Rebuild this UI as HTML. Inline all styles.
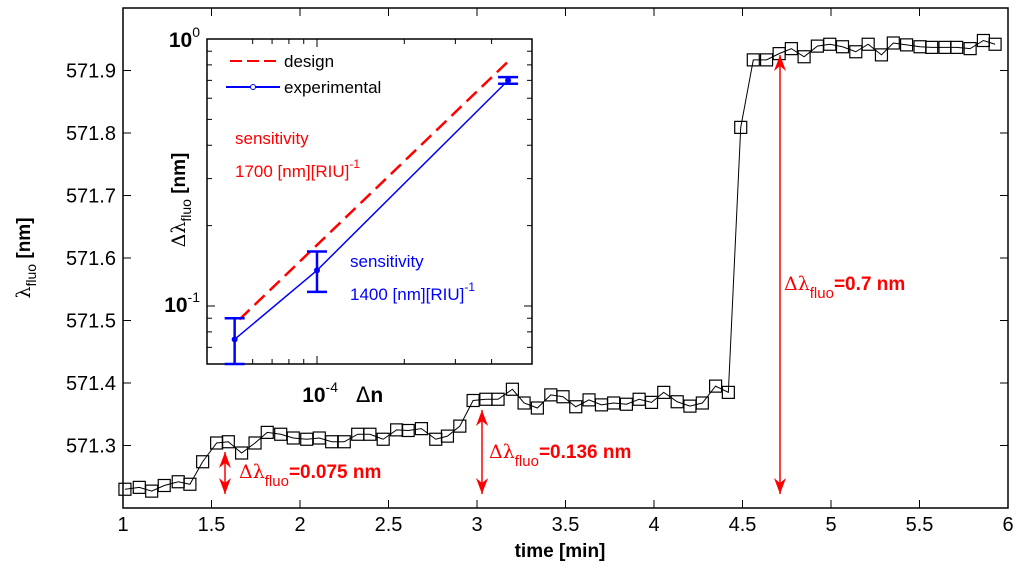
<!DOCTYPE html>
<html><head><meta charset="utf-8"><style>
body{margin:0;background:#fff;}
svg{display:block;font-family:"Liberation Sans",sans-serif;}
</style></head><body>
<svg id="c" width="1024" height="573" viewBox="0 0 1024 573">
<rect width="1024" height="573" fill="#fff"/>
<g id="main"></g>
<g id="inset"></g>
</svg>
<script>
const times=[1.011,1.092,1.162,1.233,1.312,1.378,1.450,1.529,1.595,1.670,1.746,1.815,1.891,1.962,2.038,2.109,2.179,2.250,2.326,2.395,2.470,2.546,2.611,2.686,2.767,2.833,2.903,2.978,3.050,3.119,3.200,3.266,3.341,3.417,3.486,
3.558,3.633,3.703,3.772,3.844,3.916,3.986,4.055,4.131,4.203,4.273,4.348,4.420,4.490,4.561,4.636,4.707,4.776,4.848,4.923,4.993,5.065,5.140,5.210,5.285,5.352,5.427,5.503,5.569,5.644,5.710,5.786,5.861,5.927];
const lambdas=[571.230,571.233,571.227,571.236,571.242,571.238,571.274,571.304,571.306,571.288,571.304,571.321,571.318,571.312,571.310,571.312,571.306,571.306,571.318,571.318,571.310,571.325,571.324,571.327,571.310,571.315,571.331,571.372,571.374,571.374,571.390,571.368,571.360,571.381,571.378,
571.362,571.373,571.365,571.368,571.366,571.374,571.369,571.385,571.370,571.363,571.368,571.395,571.385,571.809,571.917,571.917,571.927,571.935,571.922,571.939,571.942,571.938,571.930,571.942,571.925,571.944,571.941,571.938,571.937,571.937,571.937,571.935,571.948,571.942];
const xTicks=[1,1.5,2,2.5,3,3.5,4,4.5,5,5.5,6];
const xTickLabels=["1","1.5","2","2.5","3","3.5","4","4.5","5","5.5","6"];
const yTicks=[571.3,571.4,571.5,571.6,571.7,571.8,571.9];
const yTickLabels=["571.3","571.4","571.5","571.6","571.7","571.8","571.9"];
// inset data
const dn=[0.52e-4,1.0e-4,4.56e-4];
const dlExp=[0.075,0.136,0.7];
const dlErrLo=[0.06,0.113,0.68];
const dlErrHi=[0.09,0.16,0.72];
const designDn=[0.54e-4,4.7e-4];
const designDl=[0.089,0.85];

const NS="http://www.w3.org/2000/svg";
function mk(parent,tag,attrs,text){const e=document.createElementNS(NS,tag);for(const k in attrs)e.setAttribute(k,attrs[k]);if(text!==undefined)e.textContent=text;parent.appendChild(e);return e;}
const X0=123,X1=1008,Y0=508,Y1=8;
const sx=t=>X0+(t-1)/5*(X1-X0);
const sy=v=>Y0-(v-571.2)/0.8*(Y0-Y1);
const M=document.getElementById('main');
const box=mk(M,'rect',{x:X0,y:Y1,width:X1-X0,height:Y0-Y1,fill:'none',stroke:'#000','stroke-width':1.5});


xTicks.forEach((t,i)=>{const x=sx(t);
 mk(M,'line',{x1:x,x2:x,y1:Y0,y2:Y0-8,stroke:'#000'});mk(M,'line',{x1:x,x2:x,y1:Y1,y2:Y1+8,stroke:'#000'});
 const l=mk(M,'text',{x:x,y:531,'text-anchor':'middle','font-size':20},xTickLabels[i]);
 
 });
yTicks.forEach((v,i)=>{const y=sy(v);
 mk(M,'line',{x1:X0,x2:X0+8,y1:y,y2:y,stroke:'#000'});mk(M,'line',{x1:X1,x2:X1-8,y1:y,y2:y,stroke:'#000'});
 const l=mk(M,'text',{x:116,y:y+7,'text-anchor':'end','font-size':20},yTickLabels[i]);
 
 });
const xt=mk(M,'text',{x:560,y:557,'text-anchor':'middle','font-size':19,'font-weight':'bold'},'time [min]');


const yt=mk(M,'text',{transform:'translate(30,258) rotate(-90)','text-anchor':'middle','font-size':19,'font-weight':'bold'});


mk(yt,'tspan',{'font-weight':'normal','font-family':'DejaVu Serif, serif'},'λ');
mk(yt,'tspan',{dy:6,'font-size':14,'font-weight':'normal'},'fluo');
mk(yt,'tspan',{dy:-6},' [nm]');
const pts=times.map((t,i)=>sx(t)+','+sy(lambdas[i])).join(' ');
const ln=mk(M,'polyline',{points:pts,fill:'none',stroke:'#000','stroke-width':1});


times.forEach((t,i)=>{const r=mk(M,'rect',{x:sx(t)-6,y:sy(lambdas[i])-6,width:12,height:12,fill:'none',stroke:'#000','stroke-width':1.2});
 
 });
// annotations
function arrow(x,ya,yb,name){const g=mk(M,'g',{});
 
 
 mk(g,'line',{x1:x,x2:x,y1:ya,y2:yb,stroke:'#f00','stroke-width':1.5});
 mk(g,'polygon',{points:`${x},${ya} ${x-6},${ya+16} ${x},${ya+11} ${x+6},${ya+16}`,fill:'#f00'});
 mk(g,'polygon',{points:`${x},${yb} ${x-6},${yb-16} ${x},${yb-11} ${x+6},${yb-16}`,fill:'#f00'});}
arrow(225,452,494,'arrow-0075');arrow(482,410,494,'arrow-0136');arrow(780,55,494,'arrow-07');
function ann(x,y,val,name){const t=mk(M,'text',{x:x,y:y,'font-size':19,fill:'#f00'});
 
 
 mk(t,'tspan',{'font-family':'DejaVu Serif, serif'},'Δλ');
 mk(t,'tspan',{dy:8,'font-size':15},'fluo');
 mk(t,'tspan',{dy:-8,'font-weight':'bold'},'='+val+' nm');}
ann(239,478,'0.075','annotation-0075');ann(489,458,'0.136','annotation-0136');ann(784,290,'0.7','annotation-07');

// inset
const I=document.getElementById('inset');
const IX0=207,IX1=532,IY0=364,IY1=39;
const lx=v=>317+290*Math.log10(v/1e-4);
const ly=v=>IY1-267*Math.log10(v);
const ib=mk(I,'rect',{x:IX0,y:IY1,width:IX1-IX0,height:IY0-IY1,fill:'#fff',stroke:'#000','stroke-width':1.5});


[0.6e-4,0.7e-4,0.8e-4,0.9e-4,1e-4,2e-4,3e-4,4e-4].forEach(v=>{const x=lx(v);const L=v===1e-4?8:5;
 mk(I,'line',{x1:x,x2:x,y1:IY0,y2:IY0-L,stroke:'#000'});mk(I,'line',{x1:x,x2:x,y1:IY1,y2:IY1+L,stroke:'#000'});});
[0.07,0.08,0.09,0.1,0.2,0.3,0.4,0.5,0.6,0.7,0.8,0.9].forEach(v=>{const y=ly(v);const L=v===0.1?8:5;
 mk(I,'line',{x1:IX0,x2:IX0+L,y1:y,y2:y,stroke:'#000'});mk(I,'line',{x1:IX1,x2:IX1-L,y1:y,y2:y,stroke:'#000'});});
function sup(x,y,base,exp,name){const t=mk(I,'text',{x:x,y:y,'font-size':21,'font-weight':'bold','text-anchor':'end'});
 
 
 mk(t,'tspan',{},base);mk(t,'tspan',{dy:-10,'font-size':14,'font-weight':'normal'},exp);}
sup(200,47,'10','0','inset-y-tick-1');sup(200,312,'10','-1','inset-y-tick-01');
sup(338,402,'10','-4','inset-x-tick');
const ixt=mk(I,'text',{x:356,y:402,'font-size':21,'font-weight':'bold'});


mk(ixt,'tspan',{'font-family':'DejaVu Sans, sans-serif','font-weight':'normal'},'Δ');mk(ixt,'tspan',{},'n');
const iyt=mk(I,'text',{transform:'translate(185,200) rotate(-90)','text-anchor':'middle','font-size':19});


mk(iyt,'tspan',{'font-family':'DejaVu Serif, serif'},'Δλ');mk(iyt,'tspan',{dy:6,'font-size':14},'fluo');mk(iyt,'tspan',{dy:-6,'font-weight':'bold'},' [nm]');
const dl=mk(I,'line',{x1:lx(designDn[0]),y1:ly(designDl[0]),x2:lx(designDn[1]),y2:ly(designDl[1]),stroke:'#f00','stroke-width':2.5,'stroke-dasharray':'14,7'});


const el=mk(I,'polyline',{points:dn.map((v,i)=>lx(v)+','+ly(dlExp[i])).join(' '),fill:'none',stroke:'#00f','stroke-width':1.5});


dn.forEach((v,i)=>{const x=lx(v);const ya=Math.min(ly(dlErrLo[i]),IY0),yb=ly(dlErrHi[i]);
 const g=mk(I,'g',{stroke:'#00f','stroke-width':2.5});
 
 
 mk(g,'line',{x1:x,x2:x,y1:ya,y2:yb});mk(g,'line',{x1:x-10,x2:x+10,y1:ya,y2:ya});mk(g,'line',{x1:x-10,x2:x+10,y1:yb,y2:yb});
 mk(I,'circle',{cx:x,cy:ly(dlExp[i]),r:3,fill:'#00f'});});
// legend
const lg=mk(I,'g',{});


mk(lg,'line',{x1:230,x2:280,y1:61,y2:61,stroke:'#f00','stroke-width':2,'stroke-dasharray':'12,5'});
mk(lg,'text',{x:284,y:67,'font-size':17},'design');
mk(lg,'line',{x1:226,x2:280,y1:87,y2:87,stroke:'#00f','stroke-width':2});
mk(lg,'circle',{cx:253,cy:87,r:2.5,fill:'#fff',stroke:'#00f'});
mk(lg,'text',{x:284,y:93,'font-size':17},'experimental');
function sens(x,y,col,val,name){const g=mk(I,'g',{fill:col,'font-size':17});
 
 
 mk(g,'text',{x:x,y:y},'sensitivity');
 const t=mk(g,'text',{x:x,y:y+33});mk(t,'tspan',{},val+' [nm][RIU]');mk(t,'tspan',{dy:-9,'font-size':12},'-1');}
sens(235,144,'#f00','1700','design-sensitivity');sens(350,267,'#00f','1400','experimental-sensitivity');
</script>
</body></html>
